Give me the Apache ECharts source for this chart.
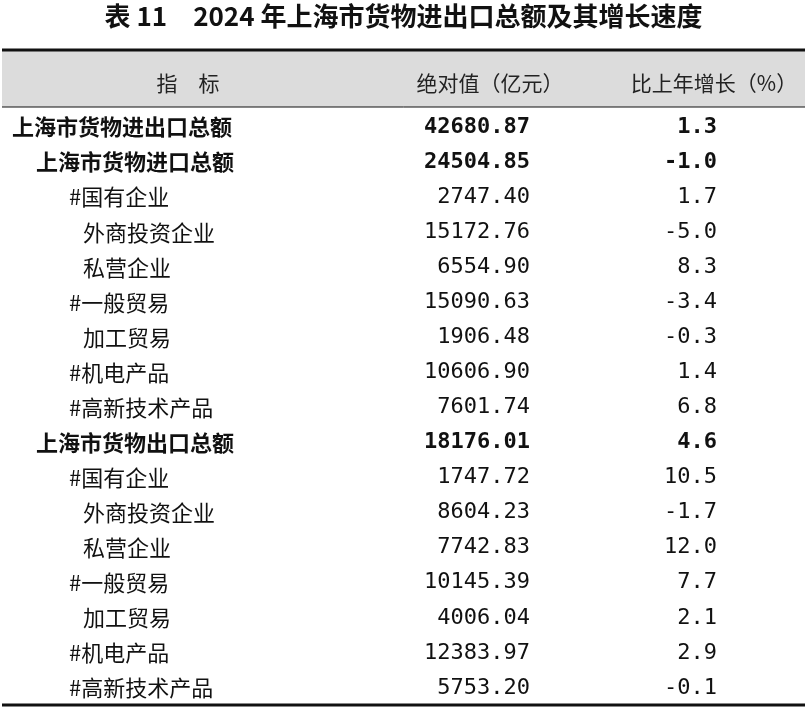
<!DOCTYPE html><html><head><meta charset="utf-8"><script src="https://cdn.jsdelivr.net/npm/echarts@6/dist/echarts.min.js"></script>
<style>html,body{margin:0;padding:0;background:#fff}#c{width:807px;height:721px}</style></head><body><div id="c"></div><script>
const title='表 11　2024 年上海市货物进出口总额及其增长速度';
const headers=['指　标','绝对值（亿元）','比上年增长（%）'];
const labels=['上海市货物进出口总额','上海市货物进口总额','#国有企业','外商投资企业','私营企业','#一般贸易','加工贸易','#机电产品','#高新技术产品','上海市货物出口总额','#国有企业','外商投资企业','私营企业','#一般贸易','加工贸易','#机电产品','#高新技术产品'];
const values=['42680.87','24504.85','2747.40','15172.76','6554.90','15090.63','1906.48','10606.90','7601.74','18176.01','1747.72','8604.23','7742.83','10145.39','4006.04','12383.97','5753.20'];
const growth=['1.3','-1.0','1.7','-5.0','8.3','-3.4','-0.3','1.4','6.8','4.6','10.5','-1.7','12.0','7.7','2.1','2.9','-0.1'];
const levels=[0,1,2,3,3,2,3,2,2,1,2,3,3,2,3,2,2];
const F='"Noto Sans CJK SC","Noto Sans",sans-serif';
const M='"DejaVu Sans Mono",monospace';
const indent=[12,36,69,83];
const g=[];
g.push({type:'text',left:'center',top:3,style:{text:title,font:'bold 26px '+F,fill:'#111'}});
g.push({type:'rect',shape:{x:2,y:51,width:803,height:56},style:{fill:'#dcdcdc'}});
g.push({type:'line',shape:{x1:2,y1:50,x2:805,y2:50},style:{stroke:'#111',lineWidth:3}});
g.push({type:'line',shape:{x1:2,y1:107,x2:805,y2:107},style:{stroke:'#111',lineWidth:1}});
g.push({type:'line',shape:{x1:2,y1:705,x2:805,y2:705},style:{stroke:'#111',lineWidth:3}});
g.push({type:'text',x:188,y:83,style:{text:headers[0],font:'21px '+F,fill:'#222',align:'center',verticalAlign:'middle'}});
g.push({type:'text',x:490,y:83,style:{text:headers[1],font:'21px '+F,fill:'#222',align:'center',verticalAlign:'middle'}});
g.push({type:'text',x:714,y:83,style:{text:headers[2],font:'21px '+F,fill:'#222',align:'center',verticalAlign:'middle'}});
labels.forEach((l,i)=>{const y=127+i*35.06;const b=levels[i]<2?'bold ':'';
g.push({type:'text',x:indent[levels[i]],y,style:{text:l,font:b+'22px '+F,fill:'#111',verticalAlign:'middle'}});
g.push({type:'text',x:530,y,style:{text:values[i],font:b+'22px '+M,fill:'#111',align:'right',verticalAlign:'middle'}});
g.push({type:'text',x:717,y,style:{text:growth[i],font:b+'22px '+M,fill:'#111',align:'right',verticalAlign:'middle'}});
});
const ch=echarts.init(document.getElementById('c'));
ch.setOption({animation:false,graphic:g});
</script></body></html>
